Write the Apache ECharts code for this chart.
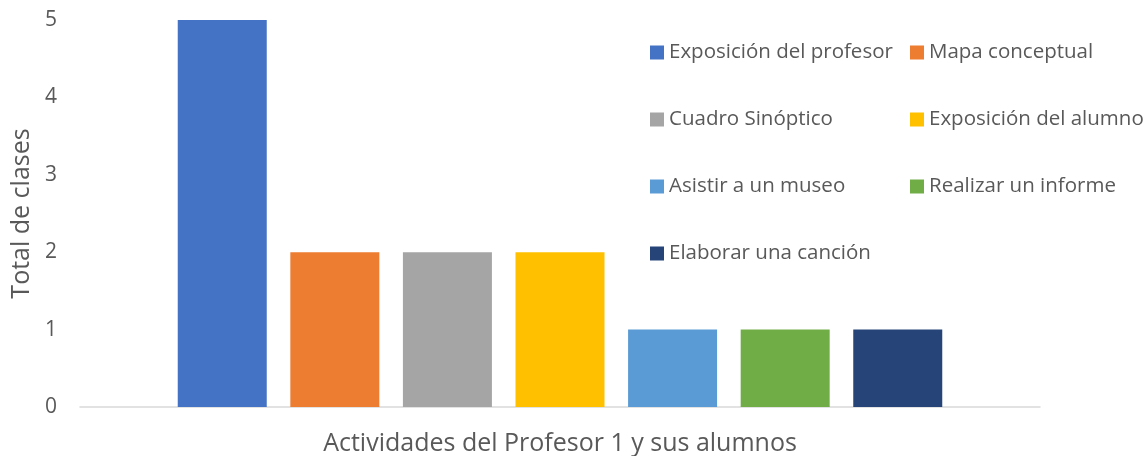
<!DOCTYPE html>
<html>
<head>
<meta charset="utf-8">
<script src="https://cdn.jsdelivr.net/npm/echarts@6/dist/echarts.min.js"></script>
<style>
html,body{margin:0;padding:0;background:#fff;}
#chart{width:1148px;height:456px;}
</style>
</head>
<body>
<div id="chart"></div>
<script>
const categories = ['Actividades del Profesor 1 y sus alumnos'];
const seriesNames = ['Exposición del profesor','Mapa conceptual','Cuadro Sinóptico','Exposición del alumno','Asistir a un museo','Realizar un informe','Elaborar una canción'];
const seriesValues = [5, 2, 2, 2, 1, 1, 1];
const seriesColors = ['#4472C4','#ED7D31','#A5A5A5','#FFC000','#5B9BD5','#70AD47','#264478'];
const yTicks = [0, 1, 2, 3, 4, 5];
const legendCol1 = ['Exposición del profesor','Cuadro Sinóptico','Asistir a un museo','Elaborar una canción'];
const legendCol2 = ['Mapa conceptual','Exposición del alumno','Realizar un informe'];

const font = '"Open Sans", sans-serif';
const textColor = '#595959';
const chart = echarts.init(document.getElementById('chart'));
const legendCommon = {
  orient: 'vertical', top: 37, itemWidth: 14, itemHeight: 14, itemGap: 46,
  icon: 'rect', textStyle: {fontFamily: font, fontSize: 20.5, color: textColor}
};
chart.setOption({
  animation: false,
  textStyle: {fontFamily: font},
  grid: {left: 80, right: 108, top: 20, bottom: 49, containLabel: false, outerBoundsMode: 'none'},
  legend: [
    Object.assign({}, legendCommon, {left: 645, data: legendCol1}),
    Object.assign({}, legendCommon, {left: 905, data: legendCol2})
  ],
  xAxis: {
    type: 'category', data: categories,
    axisLine: {lineStyle: {color: '#d9d9d9', width: 1.5}},
    axisTick: {show: false}, axisLabel: {show: false},
    name: categories[0], nameLocation: 'middle', nameGap: 24,
    nameTextStyle: {fontFamily: font, fontSize: 25, color: textColor}
  },
  yAxis: {
    type: 'value', min: yTicks[0], max: yTicks[yTicks.length-1], interval: 1,
    splitLine: {show: false}, axisLine: {show: false}, axisTick: {show: false},
    axisLabel: {fontFamily: font, fontSize: 21, color: textColor, margin: 23},
    name: 'Total de clases', nameLocation: 'middle', nameGap: 46,
    nameTextStyle: {fontFamily: font, fontSize: 25, color: textColor}
  },
  series: seriesNames.map((n, i) => ({
    name: n, type: 'bar', data: [seriesValues[i]],
    barWidth: 89, barGap: '26.5%',
    itemStyle: {color: seriesColors[i]}
  }))
});
</script>
</body>
</html>
